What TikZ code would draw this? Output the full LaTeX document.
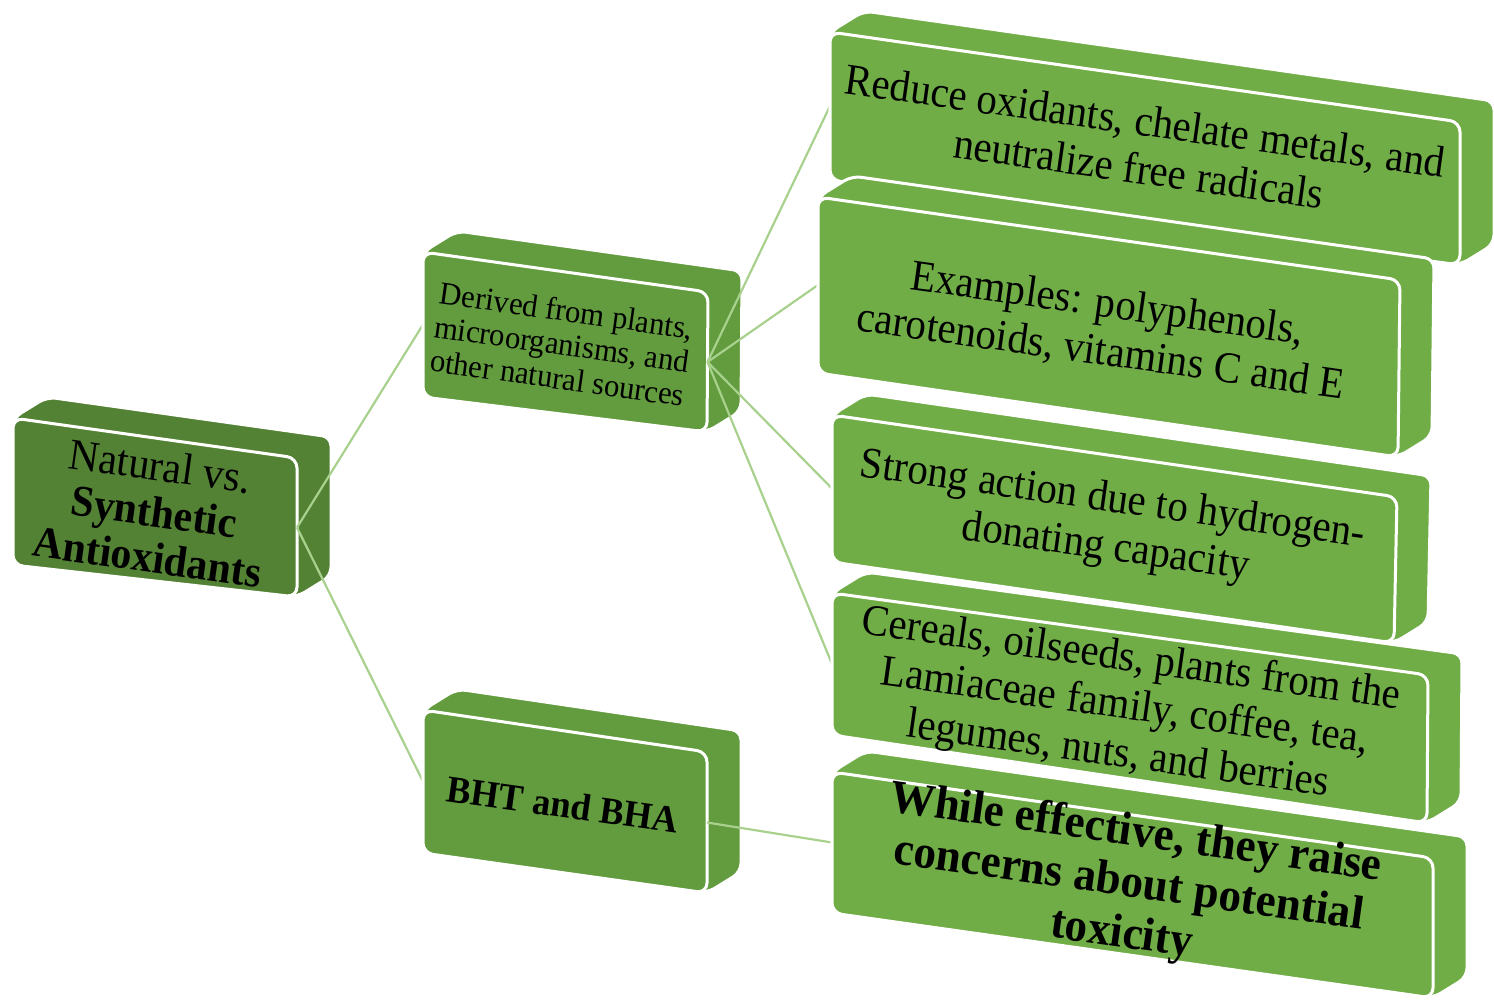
\documentclass[tikz,border=0pt]{standalone}
\usepackage{fontspec}
\setmainfont{Liberation Serif}
\usetikzlibrary{calc}
\pgfdeclarelayer{l0}\pgfdeclarelayer{l1}\pgfdeclarelayer{l2}\pgfdeclarelayer{l3}
\pgfsetlayers{l0,l1,l2,l3,main}
\definecolor{rootg}{HTML}{548235}
\definecolor{midg}{HTML}{629C3E}
\definecolor{leafg}{HTML}{70AD47}
\definecolor{lineg}{HTML}{A9D18E}
\newcommand{\gbox}[6]{%
  \coordinate (#1-tl) at (#3);
  \coordinate (#1-tr) at (#4);
  \coordinate (#1-br) at (#5);
  \coordinate (#1-bl) at (#6);
  \path[fill=#2,draw=white,line width=3pt,rounded corners=9pt,line join=round]
    (#1-tl) -- ($(#1-tl)+(34,-21)$) -- ($(#1-tr)+(34,-21)$) -- ($(#1-br)+(34,-21)$)
    -- (#1-br) -- (#1-bl) -- cycle;
  \path[fill=#2,draw=white,line width=3pt,rounded corners=10pt,line join=round]
    (#1-tl) -- (#1-tr) -- (#1-br) -- (#1-bl) -- cycle;
  \coordinate (#1-l) at ($(#1-tl)!0.5!(#1-bl)$);
  \coordinate (#1-r) at ($(#1-tr)!0.5!(#1-br)$);
  \coordinate (#1-c) at ($(#1-tl)!0.5!(#1-br)$);
}
\begin{document}
\begin{tikzpicture}[x=1pt,y=-1pt,
  txt/.style={align=center,inner sep=0pt,rotate=-8,text=black},
  conn/.style={draw=lineg,line width=2.2pt}]
\useasboundingbox (0,0) rectangle (1494,1003);
\begin{pgfonlayer}{l0}
\gbox{root}{rootg}{13,418}{297,458}{297,597}{13,565}
\node[txt,xscale=0.95,font=\fontsize{44}{46}\selectfont] (rootT) at ($(root-c)+(-1,4)$)
  {Natural vs.\\\textbf{Synthetic}\\\textbf{Antioxidants}};
\end{pgfonlayer}
\begin{pgfonlayer}{l2}
\gbox{mida}{midg}{423,252}{708,292}{707,432}{423,397}
\node[txt,xscale=0.96,font=\fontsize{32}{34}\selectfont] (midaT) at ($(mida-c)+(-3,2)$)
  {Derived from plants,\\microorganisms, and\\other natural sources};
\gbox{midb}{midg}{423,710}{707,752}{707,893}{423,853}
\node[txt,xscale=0.96,font=\bfseries\fontsize{38}{40}\selectfont] (midbT) at ($(midb-c)+(-2,3)$)
  {BHT and BHA};
\end{pgfonlayer}
\gbox{lfa}{leafg}{830,32}{1460,122}{1460,265}{830,180}
\node[txt,xscale=0.93,font=\fontsize{44}{48}\selectfont] (lfaT) at ($(lfa-c)+(-3,-4)$)
  {Reduce oxidants, chelate metals, and\\neutralize free radicals};
\gbox{lfb}{leafg}{818,197}{1400,280}{1398,457}{818,373}
\node[txt,xscale=0.93,font=\fontsize{44}{48}\selectfont] (lfbT) at ($(lfb-c)+(-4,2)$)
  {Examples: polyphenols,\\carotenoids, vitamins C and E};
\gbox{lfc}{leafg}{832,415}{1397,497}{1394,643}{832,562}
\node[txt,xscale=0.93,font=\fontsize{44}{48}\selectfont] (lfcT) at ($(lfc-c)+(-4,-4)$)
  {Strong action due to hydrogen-\\donating capacity};
\gbox{lfd}{leafg}{832,593}{1428,675}{1427,823}{832,735}
\node[txt,xscale=0.93,font=\fontsize{44}{48}\selectfont] (lfdT) at ($(lfd-c)+(-5,0)$)
  {Cereals, oilseeds, plants from the\\Lamiaceae family, coffee, tea,\\legumes, nuts, and berries};
\gbox{lfe}{leafg}{832,772}{1433,858}{1433,998}{832,913}
\node[txt,xscale=0.96,font=\bfseries\fontsize{47}{51}\selectfont] (lfeT) at ($(lfe-c)+(-4,0)$)
  {While effective, they raise\\concerns about potential\\toxicity};
\begin{pgfonlayer}{l1}
\draw[conn] (root-r) -- (mida-l);
\draw[conn] (root-r) -- (midb-l);
\end{pgfonlayer}
\begin{pgfonlayer}{l3}
\draw[conn] (mida-r) -- (lfa-l);
\draw[conn] (mida-r) -- (lfb-l);
\draw[conn] (mida-r) -- (lfc-l);
\draw[conn] (mida-r) -- (lfd-l);
\draw[conn] (midb-r) -- (lfe-l);
\end{pgfonlayer}
\end{tikzpicture}
\end{document}
